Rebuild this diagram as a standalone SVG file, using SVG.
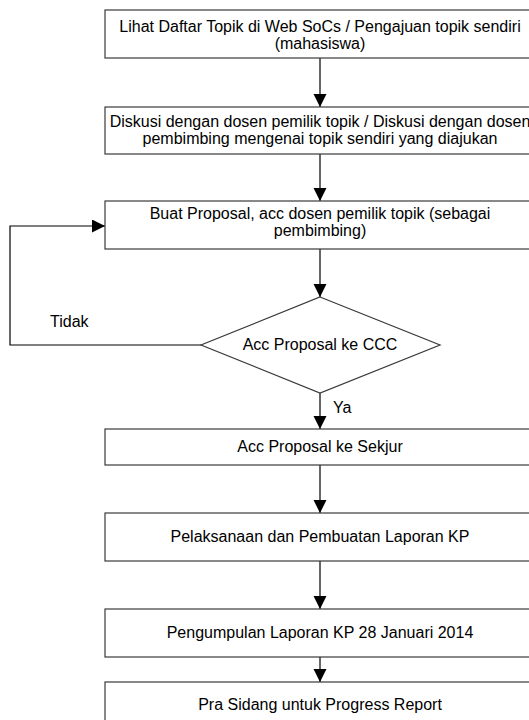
<svg xmlns="http://www.w3.org/2000/svg" width="529" height="720" viewBox="0 0 529 720">
<style>
.box{fill:#fff;stroke:#3a3a3a;stroke-width:1.2}
.t{font-family:"Liberation Sans",Arial,sans-serif;font-size:16px;fill:#000;text-anchor:middle}
.lbl{font-family:"Liberation Sans",Arial,sans-serif;font-size:16px;fill:#000}
.c{fill:none;stroke:#000;stroke-width:1.2}
</style>
<defs>
<marker id="ah" markerUnits="userSpaceOnUse" markerWidth="14" markerHeight="14" refX="13" refY="6.5" orient="auto">
<path d="M0,0 L13,6.5 L0,13 z" fill="#000"/>
</marker>
</defs>
<rect width="529" height="720" fill="#fff"/>
<g id="connectors">
<line class="c" x1="320" y1="58" x2="320" y2="107" marker-end="url(#ah)"/>
<line class="c" x1="320" y1="154" x2="320" y2="201" marker-end="url(#ah)"/>
<line class="c" x1="320" y1="249" x2="320" y2="297" marker-end="url(#ah)"/>
<line class="c" x1="320" y1="393" x2="320" y2="429" marker-end="url(#ah)"/>
<line class="c" x1="320" y1="459" x2="320" y2="513" marker-end="url(#ah)"/>
<line class="c" x1="320" y1="561" x2="320" y2="609" marker-end="url(#ah)"/>
<line class="c" x1="320" y1="657" x2="320" y2="682" marker-end="url(#ah)"/>
<polyline class="c" points="201,345 10,345 10,226 105,226" marker-end="url(#ah)"/>
<text class="lbl" x="50" y="327">Tidak</text>
<text class="lbl" x="333" y="413">Ya</text>
</g>
<g id="n1">
<rect class="box" x="105" y="10" width="430" height="48"/>
<text class="t" x="320" y="32">Lihat Daftar Topik di Web SoCs / Pengajuan topik sendiri</text>
<text class="t" x="320" y="49">(mahasiswa)</text>
</g>
<g id="n2">
<rect class="box" x="105" y="107" width="430" height="47"/>
<text class="t" x="320" y="127">Diskusi dengan dosen pemilik topik / Diskusi dengan dosen</text>
<text class="t" x="320" y="144">pembimbing mengenai topik sendiri yang diajukan</text>
</g>
<g id="n3">
<rect class="box" x="105" y="201" width="430" height="48"/>
<text class="t" x="320" y="219">Buat Proposal, acc dosen pemilik topik (sebagai</text>
<text class="t" x="320" y="236">pembimbing)</text>
</g>
<g id="n4">
<polygon class="box" points="320,297 440,345 320,393 201,345"/>
<text class="t" x="320" y="350">Acc Proposal ke CCC</text>
</g>
<g id="n5">
<rect class="box" x="105" y="429" width="430" height="36"/>
<text class="t" x="320" y="452">Acc Proposal ke Sekjur</text>
</g>
<g id="n6">
<rect class="box" x="105" y="513" width="430" height="48"/>
<text class="t" x="320" y="542">Pelaksanaan dan Pembuatan Laporan KP</text>
</g>
<g id="n7">
<rect class="box" x="105" y="609" width="430" height="48"/>
<text class="t" x="320" y="638">Pengumpulan Laporan KP 28 Januari 2014</text>
</g>
<g id="n8">
<rect class="box" x="105" y="682" width="430" height="48"/>
<text class="t" x="320" y="710">Pra Sidang untuk Progress Report</text>
</g>
</svg>
